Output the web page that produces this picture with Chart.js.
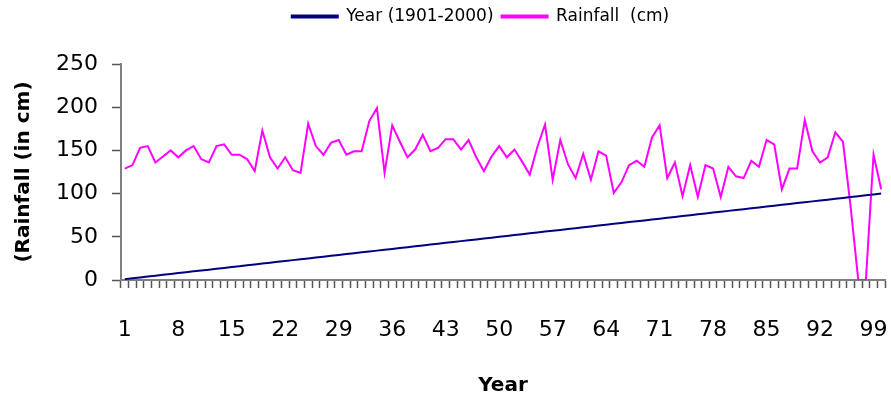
<!DOCTYPE html>
<html>
<head>
<meta charset="utf-8">
<script src="https://cdn.jsdelivr.net/npm/chart.js@4"></script>
<style>
  html, body { margin: 0; padding: 0; background: #fff; }
  #wrap { width: 891px; height: 402px; }
</style>
</head>
<body>
<div id="wrap"><canvas id="chart" width="891" height="402"></canvas></div>
<script>
// categories on the x axis (year index 1..100)
const categories = [
  1, 2, 3, 4, 5, 6, 7, 8, 9, 10, 11, 12, 13, 14, 15, 16, 17, 18, 19, 20,
  21, 22, 23, 24, 25, 26, 27, 28, 29, 30, 31, 32, 33, 34, 35, 36, 37, 38, 39, 40,
  41, 42, 43, 44, 45, 46, 47, 48, 49, 50, 51, 52, 53, 54, 55, 56, 57, 58, 59, 60,
  61, 62, 63, 64, 65, 66, 67, 68, 69, 70, 71, 72, 73, 74, 75, 76, 77, 78, 79, 80,
  81, 82, 83, 84, 85, 86, 87, 88, 89, 90, 91, 92, 93, 94, 95, 96, 97, 98, 99, 100
];

// "Year (1901-2000)" series, plotted as its index value
const yearValues = [
  1, 2, 3, 4, 5, 6, 7, 8, 9, 10, 11, 12, 13, 14, 15, 16, 17, 18, 19, 20,
  21, 22, 23, 24, 25, 26, 27, 28, 29, 30, 31, 32, 33, 34, 35, 36, 37, 38, 39, 40,
  41, 42, 43, 44, 45, 46, 47, 48, 49, 50, 51, 52, 53, 54, 55, 56, 57, 58, 59, 60,
  61, 62, 63, 64, 65, 66, 67, 68, 69, 70, 71, 72, 73, 74, 75, 76, 77, 78, 79, 80,
  81, 82, 83, 84, 85, 86, 87, 88, 89, 90, 91, 92, 93, 94, 95, 96, 97, 98, 99, 100
];

// rainfall in cm
const rainfall = [
  129, 133, 153, 155, 136, 143, 150, 142, 150, 155,
  140, 136, 155, 157, 145, 145, 140, 126, 173, 142,
  129, 142, 127, 124, 181, 155, 145, 159, 162, 145,
  149, 149, 184, 199, 124, 179, 160, 142, 151, 168,
  149, 153, 163, 163, 151, 162, 142, 126, 143, 155,
  142, 151, 137, 122, 154, 180, 116, 162, 134, 118,
  146, 116, 149, 144, 101, 113, 133, 138, 131, 165,
  179, 118, 136, 97, 133, 96, 133, 129, 96, 131,
  120, 118, 138, 131, 162, 157, 105, 129, 129, 185,
  149, 136, 142, 171, 160, 85, 0, 0, 145, 105
];

const yTicks = [0, 50, 100, 150, 200, 250];
const labelEvery = 7;

const FONT = '"DejaVu Sans", sans-serif';
const axisGray = '#808080';

// Excel-style legend: a bit right of centre, with a gap under it
const legendTweak = {
  id: 'legendTweak',
  beforeLayout(chart) {
    const lg = chart.legend;
    if (lg && !lg._tweaked) {
      const fit = lg.fit.bind(lg);
      lg.fit = function () { fit(); this.height += 29; };
      lg._tweaked = true;
    }
  },
  afterUpdate(chart) {
    if (chart.legend) {
      chart.legend.left += 38;
      chart.legend.right += 38;
    }
  }
};

new Chart(document.getElementById('chart'), {
  type: 'line',
  data: {
    labels: categories,
    datasets: [
      {
        label: 'Year (1901-2000)',
        data: yearValues,
        borderColor: '#000080',
        backgroundColor: '#000080',
        borderWidth: 2,
        pointRadius: 0,
        tension: 0
      },
      {
        label: 'Rainfall  (cm)',
        data: rainfall,
        borderColor: '#ff00ff',
        backgroundColor: '#ff00ff',
        borderWidth: 2,
        pointRadius: 0,
        tension: 0
      }
    ]
  },
  options: {
    responsive: false,
    animation: false,
    layout: { padding: { left: 0, right: 6, top: 0, bottom: 0 } },
    plugins: {
      tooltip: { enabled: false },
      legend: {
        position: 'top',
        labels: {
          font: { family: FONT, size: 17 },
          color: '#000',
          boxWidth: 46,
          boxHeight: 2,
          padding: 8
        }
      }
    },
    scales: {
      x: {
        type: 'category',
        offset: true,
        grid: {
          display: true,
          drawOnChartArea: false,
          offset: true,
          tickLength: 8,
          tickColor: '#555',
          tickWidth: 1.5
        },
        border: { display: true, color: axisGray, width: 2 },
        ticks: {
          autoSkip: false,
          maxRotation: 0,
          minRotation: 0,
          padding: 29,
          color: '#000',
          font: { family: FONT, size: 22 },
          callback: (v, i) => (i % labelEvery === 0 ? categories[i] : '')
        },
        title: {
          display: true,
          text: 'Year',
          color: '#000',
          font: { family: FONT, size: 20, weight: 'bold' },
          padding: { top: 0, bottom: 4 }
        },
        afterFit: s => { s.height = 122; s.paddingLeft = 0; s.paddingRight = 0; }
      },
      y: {
        min: 0,
        max: 250,
        afterBuildTicks: s => { s.ticks = yTicks.map(v => ({ value: v })); },
        grid: {
          display: true,
          drawOnChartArea: false,
          tickLength: 9,
          tickColor: '#555',
          tickWidth: 1.5
        },
        border: { display: true, color: axisGray, width: 2 },
        ticks: {
          padding: 14,
          color: '#000',
          font: { family: FONT, size: 22 }
        },
        title: {
          display: true,
          text: '(Rainfall (in cm)',
          color: '#000',
          font: { family: FONT, size: 20, weight: 'bold' },
          padding: { top: 12, bottom: 0 }
        },
        afterFit: s => { s.width = 121; s.paddingTop = 0; s.paddingBottom = 0; }
      }
    }
  },
  plugins: [legendTweak]
});
</script>
</body>
</html>
